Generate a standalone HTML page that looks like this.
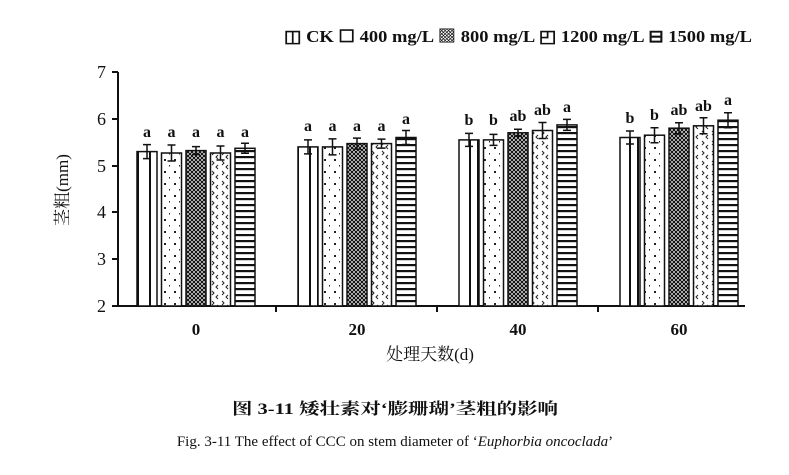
<!DOCTYPE html>
<html><head><meta charset="utf-8"><style>
body{margin:0;background:#fff;}
svg{display:block;font-family:"Liberation Serif","Noto Serif CJK SC",serif;}
</style></head><body>
<svg width="789" height="475" viewBox="0 0 789 475">
<defs>
<pattern id="pv" width="20" height="4" patternUnits="userSpaceOnUse"><rect width="20" height="4" fill="#fff"/><rect x="9" width="2" height="4" fill="#111"/><rect x="17" width="2" height="4" fill="#111"/></pattern>
<pattern id="pd" width="10" height="12" patternUnits="userSpaceOnUse"><rect width="10" height="12" fill="#fff"/><rect x="4" y="3" width="2" height="2" fill="#222"/><rect x="9" y="9" width="1.5" height="1.5" fill="#222"/></pattern>
<pattern id="px" width="4" height="4" patternUnits="userSpaceOnUse"><rect width="4" height="4" fill="#fff"/><path d="M0,0L4,4M4,0L0,4" stroke="#111" stroke-width="1.2"/></pattern>
<pattern id="pz" width="10" height="10" patternUnits="userSpaceOnUse"><rect width="10" height="10" fill="#fff"/><path d="M2,1L4,3L2,5M8,5L6,7L8,9" stroke="#222" fill="none" stroke-width="1"/></pattern>
<pattern id="ph" width="4" height="6" patternUnits="userSpaceOnUse"><rect width="4" height="6" fill="#fff"/><rect y="0" width="4" height="2.2" fill="#111"/></pattern>
</defs>
<text x="284" y="42" font-size="17" font-weight="bold" fill="#111" textLength="468" lengthAdjust="spacingAndGlyphs">◫ CK ☐ 400 mg/L ▩ 800 mg/L ◰ 1200 mg/L ⊟ 1500 mg/L</text>
<g stroke="#111" stroke-width="2" fill="none">
<path d="M118,72V306H745"/>
<path d="M118,72h-6M118,119h-6M118,166h-6M118,212h-6M118,259h-6M118,306h-6"/>
<path d="M276,306v6M437,306v6M598,306v6"/>
</g>
<g font-size="18" fill="#111" text-anchor="end">
<text x="106" y="78">7</text><text x="106" y="125">6</text><text x="106" y="172">5</text><text x="106" y="218">4</text><text x="106" y="265">3</text><text x="106" y="312">2</text>
</g>
<g font-size="17" font-weight="bold" fill="#111" text-anchor="middle">
<text x="196" y="335">0</text><text x="357" y="335">20</text><text x="518" y="335">40</text><text x="679" y="335">60</text>
</g>
<text x="430" y="360" font-size="17" text-anchor="middle" fill="#111">处理天数(d)</text>
<text transform="translate(68,190) rotate(-90)" font-size="17" text-anchor="middle" fill="#111">茎粗(mm)</text>
<g stroke="#111" stroke-width="1.5">
<rect x="137" y="151.6" width="20" height="154.4" fill="url(#pv)"/>
<rect x="161.5" y="153" width="20" height="153" fill="url(#pd)"/>
<rect x="186" y="150.6" width="20" height="155.4" fill="url(#px)"/>
<rect x="210.5" y="153" width="20" height="153" fill="url(#pz)"/>
<rect x="235" y="148.3" width="20" height="157.7" fill="url(#ph)"/>
<rect x="298" y="146.9" width="20" height="159.1" fill="url(#pv)"/>
<rect x="322.5" y="146.9" width="20" height="159.1" fill="url(#pd)"/>
<rect x="347" y="143.6" width="20" height="162.4" fill="url(#px)"/>
<rect x="371.5" y="143.6" width="20" height="162.4" fill="url(#pz)"/>
<rect x="396" y="137.5" width="20" height="168.5" fill="url(#ph)"/>
<rect x="459" y="139.9" width="20" height="166.1" fill="url(#pv)"/>
<rect x="483.5" y="139.9" width="20" height="166.1" fill="url(#pd)"/>
<rect x="508" y="132.8" width="20" height="173.2" fill="url(#px)"/>
<rect x="532.5" y="130.5" width="20" height="175.5" fill="url(#pz)"/>
<rect x="557" y="124.9" width="20" height="181.1" fill="url(#ph)"/>
<rect x="620" y="137.5" width="20" height="168.5" fill="url(#pv)"/>
<rect x="644.5" y="135.2" width="20" height="170.8" fill="url(#pd)"/>
<rect x="669" y="128.2" width="20" height="177.8" fill="url(#px)"/>
<rect x="693.5" y="125.8" width="20" height="180.2" fill="url(#pz)"/>
<rect x="718" y="120.2" width="20" height="185.8" fill="url(#ph)"/>
</g>
<g stroke="#111" stroke-width="1.5" fill="none">
<path d="M147,144.6v14m-4,-14h8m-8,14h8"/>
<path d="M171.5,145v16m-4,-16h8m-8,16h8"/>
<path d="M196,146.6v8m-4,-8h8m-8,8h8"/>
<path d="M220.5,146v14m-4,-14h8m-8,14h8"/>
<path d="M245,143.3v10m-4,-10h8m-8,10h8"/>
<path d="M308,139.9v14m-4,-14h8m-8,14h8"/>
<path d="M332.5,138.9v16m-4,-16h8m-8,16h8"/>
<path d="M357,138.1v11m-4,-11h8m-8,11h8"/>
<path d="M381.5,139.1v9m-4,-9h8m-8,9h8"/>
<path d="M406,130.5v14m-4,-14h8m-8,14h8"/>
<path d="M469,133.4v13m-4,-13h8m-8,13h8"/>
<path d="M493.5,134.4v11m-4,-11h8m-8,11h8"/>
<path d="M518,129.3v7m-4,-7h8m-8,7h8"/>
<path d="M542.5,122.5v16m-4,-16h8m-8,16h8"/>
<path d="M567,119.4v11m-4,-11h8m-8,11h8"/>
<path d="M630,131v13m-4,-13h8m-8,13h8"/>
<path d="M654.5,127.7v15m-4,-15h8m-8,15h8"/>
<path d="M679,122.7v11m-4,-11h8m-8,11h8"/>
<path d="M703.5,117.8v16m-4,-16h8m-8,16h8"/>
<path d="M728,112.7v15m-4,-15h8m-8,15h8"/>
</g>
<g font-size="16" font-weight="bold" fill="#111" text-anchor="middle">
<text x="147" y="137">a</text><text x="171.5" y="137">a</text><text x="196" y="137">a</text><text x="220.5" y="137">a</text><text x="245" y="137">a</text>
<text x="308" y="131">a</text><text x="332.5" y="131">a</text><text x="357" y="131">a</text><text x="381.5" y="131">a</text><text x="406" y="124">a</text>
<text x="469" y="125">b</text><text x="493.5" y="125">b</text><text x="518" y="121">ab</text><text x="542.5" y="115">ab</text><text x="567" y="112">a</text>
<text x="630" y="123">b</text><text x="654.5" y="120">b</text><text x="679" y="115">ab</text><text x="703.5" y="111">ab</text><text x="728" y="105">a</text>
</g>
<text x="232" y="414" font-size="16" font-weight="bold" fill="#111" textLength="326" lengthAdjust="spacingAndGlyphs">图 3-11  矮壮素对‘膨珊瑚’茎粗的影响</text>
<text x="395" y="446" font-size="15" text-anchor="middle" fill="#111">Fig. 3-11 The effect of CCC on stem diameter of ‘<tspan font-style="italic">Euphorbia oncoclada</tspan>’</text>
</svg>
</body></html>
